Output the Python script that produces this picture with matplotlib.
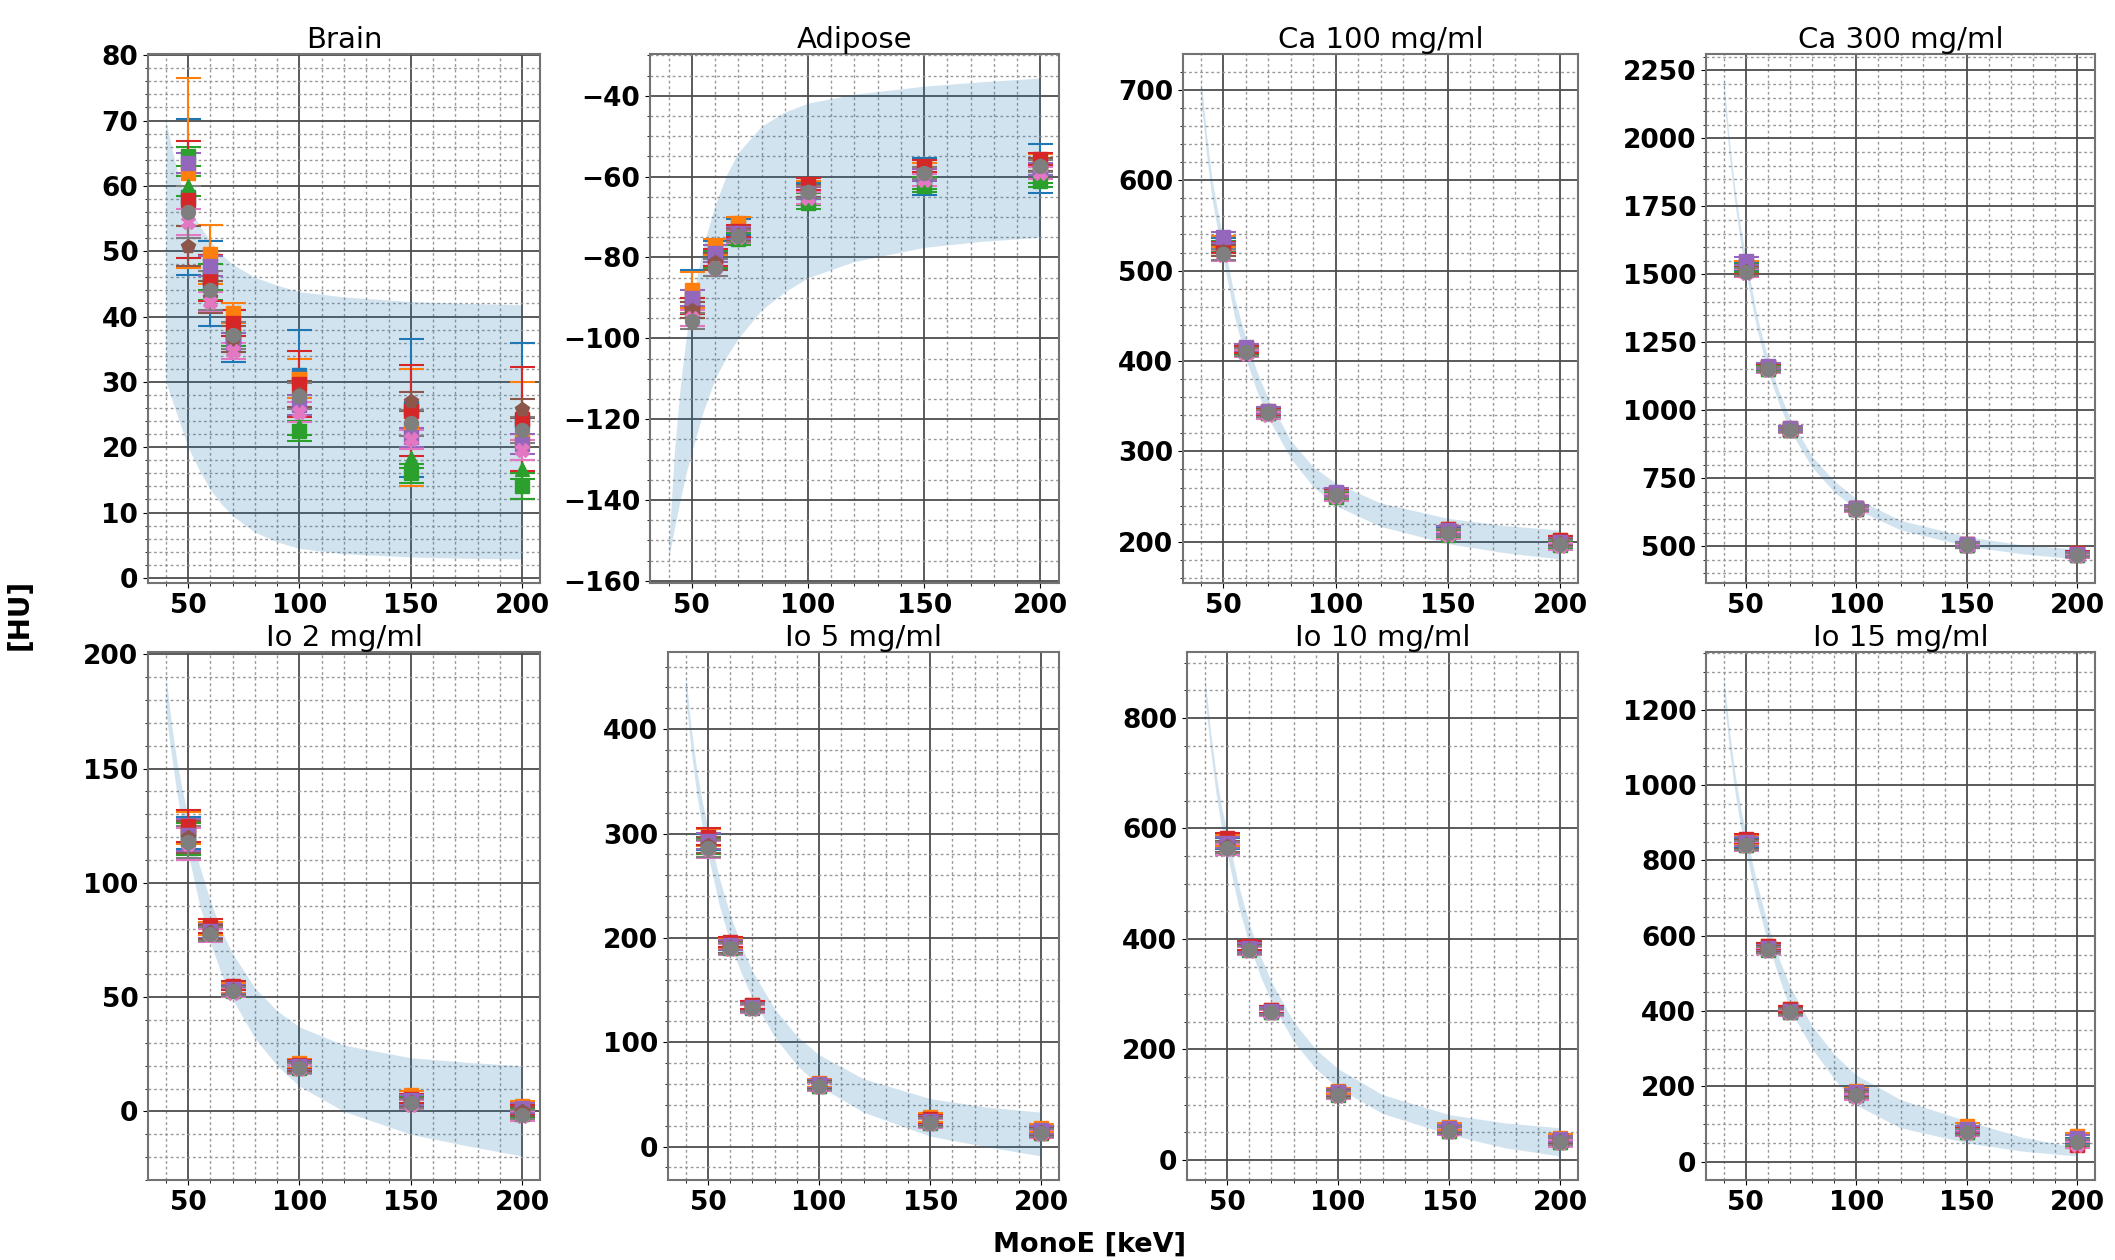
import numpy as np
import matplotlib.pyplot as plt
from matplotlib.ticker import MultipleLocator

# energies of the measured points and of the band
energies = [50, 60, 70, 100, 150, 200]
band_e = [40, 42.5, 45, 47.5, 50, 55, 60, 65, 70, 80, 90, 100, 120, 150, 175, 200]

# series styles (tab10 colours)
series_colors = ['C0', 'C1', 'C2', 'C2', 'C3', 'C4', 'C5', 'C6', 'C7']
series_markers = ['s', 's', '^', 's', 's', 's', 'p', 'X', 'o']

titles = ['Brain', 'Adipose', 'Ca 100 mg/ml', 'Ca 300 mg/ml',
          'Io 2 mg/ml', 'Io 5 mg/ml', 'Io 10 mg/ml', 'Io 15 mg/ml']

# Brain
brain_mean = [[58.3, 45, 37, 31, 26, 24],
              [62, 49.5, 40.5, 30.5, 23, 21],
              [60, 44, 36, 23.3, 18.3, 16.6],
              [64.5, 46, 37, 22.5, 16, 14],
              [57.9, 45.9, 39, 29.7, 25.6, 24.3],
              [63.5, 47.7, 36, 26.5, 21.5, 20.5],
              [50.8, 43, 36.5, 28.2, 27, 25.9],
              [54.5, 42.3, 34.7, 25.4, 21.2, 19.6],
              [56, 44, 37.1, 27.8, 23.7, 22.6]]
brain_err = [[12, 6.5, 4, 7, 10.5, 12],
             [14.5, 4.5, 1.5, 3, 9, 9],
             [1.5, 1.5, 1.5, 1.5, 1.5, 1.5],
             [1.5, 2, 1.5, 1.5, 1.5, 2],
             [9, 3.5, 2, 5, 7, 8],
             [1.5, 1.5, 1.5, 1.5, 1.5, 1.5],
             [3, 2.5, 2, 2, 1.5, 1.5],
             [2, 1.5, 1.2, 1.5, 1.5, 1.5],
             [4, 3, 2, 2, 2, 2]]
brain_up = [70, 66, 62.5, 59.5, 57, 54, 51.5, 49.5, 48, 46, 44.8, 43.8, 43, 42.3, 42, 41.8]
brain_lo = [30, 27.5, 25, 22.5, 20, 16.5, 13.5, 11.3, 9.5, 7, 5.5, 4.5, 3.7, 3.2, 3, 2.9]

# Adipose
adipose_mean = [[-90, -79, -72.5, -63.5, -60, -58],
                [-88, -77.5, -71.5, -62.5, -58.5, -56.5],
                [-92, -80.5, -75, -65.5, -61.5, -60],
                [-93, -81, -75.5, -66.5, -62.3, -61],
                [-92, -80, -73.5, -61.8, -57.3, -55.7],
                [-90, -79, -74, -64, -59.5, -58],
                [-93, -81, -74.5, -63.5, -59, -57],
                [-95, -82.5, -75, -65.3, -60.8, -59],
                [-95.7, -82.5, -74.7, -63.8, -59, -57.3]]
adipose_err = [[7, 3, 2, 2, 4.5, 6],
               [4.5, 2, 1.5, 1.5, 2, 2],
               [2, 2, 1.5, 1.5, 1.5, 1.5],
               [2, 2, 1.5, 1.5, 1.5, 1.5],
               [2, 2, 1.5, 1.5, 1.5, 1.5],
               [2, 2, 1.5, 1.5, 1.5, 1.5],
               [2, 2, 1.5, 1.5, 1.5, 1.5],
               [2, 2, 1.5, 1.5, 1.5, 1.5],
               [2, 2, 1.5, 1.5, 1.5, 1.5]]
adipose_up = [-152, -128, -112, -100, -91, -77, -67, -59.5, -54, -47.5, -44, -41.8, -39.6, -37.6, -36.5, -35.6]
adipose_lo = [-154.6, -147, -140, -133.5, -128, -118, -110, -104.5, -100, -93, -88.5, -85, -81, -77.5, -76, -75]

# Ca 100 mg/ml
ca100_mean = [[530, 413, 344, 253, 212, 200],
              [532, 414, 345, 254, 214, 202],
              [526, 411, 342, 251, 209, 197],
              [527, 411, 342, 250, 208, 196],
              [526, 413, 344, 254, 214, 202],
              [537, 415, 345, 255, 213, 200],
              [522, 410, 342, 252, 210, 199],
              [517, 408, 340, 249, 207, 195],
              [518, 410, 342, 252, 210, 198]]
ca100_err = [6, 4, 4, 4, 4, 4]
ca100_up = [713, 650, 600, 565, 535, 470, 425, 388, 358, 312, 283, 265, 243, 226, 218, 213]
ca100_lo = [690, 628, 578, 543, 512, 448, 402, 366, 337, 292, 261, 240, 217, 198, 188, 181]

# Ca 300 mg/ml
ca300_mean = [[1530, 1158, 932, 640, 506, 472],
              [1535, 1160, 933, 641, 508, 474],
              [1522, 1153, 929, 637, 504, 469],
              [1520, 1152, 928, 636, 503, 468],
              [1515, 1160, 932, 641, 508, 474],
              [1548, 1162, 934, 642, 507, 472],
              [1512, 1150, 927, 636, 502, 468],
              [1505, 1148, 925, 634, 500, 465],
              [1508, 1150, 928, 636, 503, 468]]
ca300_err = [15, 10, 8, 8, 8, 8]
ca300_up = [2222, 2000, 1820, 1680, 1565, 1350, 1190, 1070, 970, 830, 740, 675, 595, 535, 505, 490]
ca300_lo = [2160, 1940, 1765, 1625, 1505, 1300, 1140, 1025, 925, 790, 700, 635, 560, 500, 472, 453]

# Io 2 mg/ml
io2_mean = [[122, 79, 53.5, 20, 5, 0.5],
            [124, 80, 54, 21, 7, 2.5],
            [120, 78, 53, 19.5, 4.5, -0.5],
            [119, 78, 52.5, 19, 4, -1],
            [125, 81, 55, 20.5, 5.5, 1],
            [121, 79, 53.5, 20, 5, 1.5],
            [120, 78.5, 53, 19.5, 4, 0],
            [117, 77, 52, 18.5, 3, -2],
            [118, 77.5, 52.5, 19, 3.5, -1.5]]
io2_err = [7, 3, 2, 2, 2, 2]
io2_up = [190.5, 170, 153, 140, 129, 108, 92, 79, 69, 54, 44, 37, 29, 23.5, 21.5, 20]
io2_lo = [175, 156, 139, 125, 113, 91, 74, 60, 49, 32, 20, 11, 0, -10, -15, -19.5]

# Io 5 mg/ml
io5_mean = [[292, 193, 135, 60, 25, 15],
            [296, 195, 136, 61, 28, 18],
            [289, 191, 133.5, 58.5, 23.5, 13.5],
            [288, 190, 133, 58, 23, 13],
            [297, 196, 136, 60, 26, 14],
            [293, 193, 134, 60, 25, 16],
            [289, 191, 133, 59, 24, 14],
            [285, 189, 132, 57, 22, 12],
            [286, 190, 133, 58, 23, 13]]
io5_err = [8, 5, 4, 4, 4, 4]
io5_up = [451, 400, 360, 330, 305, 258, 222, 193, 168, 132, 106, 88, 65, 46, 38, 33]
io5_lo = [430, 378, 337, 305, 280, 232, 195, 166, 142, 105, 78, 58, 33, 10, 0, -9]

# Io 10 mg/ml
io10_mean = [[572, 383, 270, 121, 55, 36],
             [578, 386, 272, 125, 60, 40],
             [567, 381, 268, 119, 53, 33],
             [566, 380, 267, 118, 52, 32],
             [582, 388, 272, 122, 56, 36],
             [574, 384, 270, 122, 57, 38],
             [568, 381, 268, 120, 54, 34],
             [562, 378, 266, 116, 51, 30],
             [565, 380, 268, 118, 53, 33]]
io10_err = [10, 8, 6, 6, 6, 6]
io10_up = [876, 780, 700, 640, 595, 500, 428, 370, 322, 250, 200, 165, 118, 82, 67, 58]
io10_lo = [840, 745, 665, 602, 555, 462, 390, 333, 286, 214, 165, 130, 84, 46, 22, 7]

# Io 15 mg/ml
io15_mean = [[848, 567, 400, 180, 82, 55],
             [855, 572, 405, 188, 95, 68],
             [842, 564, 398, 177, 79, 51],
             [840, 563, 397, 176, 78, 50],
             [858, 573, 405, 182, 84, 45],
             [850, 568, 400, 184, 88, 62],
             [843, 565, 399, 179, 80, 52],
             [838, 560, 394, 172, 75, 45],
             [840, 563, 397, 177, 79, 51]]
io15_err = [12, 8, 8, 8, 8, 8]
io15_up = [1290, 1150, 1035, 945, 875, 740, 630, 540, 465, 360, 285, 230, 165, 108, 65, 38]
io15_lo = [1240, 1100, 985, 895, 825, 690, 580, 490, 405, 300, 220, 150, 90, 50, 28, 15]

means = [brain_mean, adipose_mean, ca100_mean, ca300_mean, io2_mean, io5_mean, io10_mean, io15_mean]
errs = [brain_err, adipose_err, ca100_err, ca300_err, io2_err, io5_err, io10_err, io15_err]
ups = [brain_up, adipose_up, ca100_up, ca300_up, io2_up, io5_up, io10_up, io15_up]
los = [brain_lo, adipose_lo, ca100_lo, ca300_lo, io2_lo, io5_lo, io10_lo, io15_lo]

# y tick spacing (major, minor)
y_major = [10, 20, 100, 250, 50, 100, 200, 200]
y_minor = [2, 5, 20, 50, 10, 20, 50, 50]

# axes boxes in pixels (left, right) per panel, rows (top, bottom)
W, H = 2115, 1260
cols = [(148, 540), (650, 1059), (1183, 1578), (1706, 2095),
        (148, 540), (668, 1059), (1187, 1578), (1706, 2095)]
rows = [(54, 583), (652, 1180)]

fig = plt.figure(figsize=(W / 100, H / 100), dpi=100)

for i in range(8):
    l, r = cols[i]
    t, b = rows[i // 4]
    ax = fig.add_axes([l / W, 1 - b / H, (r - l) / W, (b - t) / H])

    ax.fill_between(band_e, los[i], ups[i], color='C0', alpha=0.2, linewidth=0)

    m = np.array(means[i], dtype=float)
    e = np.broadcast_to(np.array(errs[i], dtype=float), m.shape)
    for k in range(m.shape[0]):
        ax.errorbar(energies, m[k], yerr=e[k], fmt=series_markers[k],
                    color=series_colors[k], ms=10, capsize=9,
                    elinewidth=1.5, capthick=1.5)

    ax.xaxis.set_major_locator(MultipleLocator(50))
    ax.xaxis.set_minor_locator(MultipleLocator(10))
    ax.yaxis.set_major_locator(MultipleLocator(y_major[i]))
    ax.yaxis.set_minor_locator(MultipleLocator(y_minor[i]))
    ax.grid(which='major', color='0.3', linewidth=1.3)
    ax.grid(which='minor', color='0.6', linestyle=(0, (2, 2)), linewidth=1.0)
    ax.set_axisbelow(True)

    ax.tick_params(labelsize=19)
    for lab in ax.get_xticklabels() + ax.get_yticklabels():
        lab.set_fontweight('bold')
    for s in ax.spines.values():
        s.set_color('0.45')
        s.set_linewidth(1.5)

    ax.set_title(titles[i], fontsize=21, pad=4)

fig.text(20 / W, 1 - 614 / H, '[HU]', rotation=90, fontsize=20, fontweight='bold',
         ha='center', va='center')
fig.text(1090 / W, 1 - 1245 / H, 'MonoE [keV]', fontsize=19.5, fontweight='bold',
         ha='center', va='center')

fig.savefig('out.png', dpi=100)
